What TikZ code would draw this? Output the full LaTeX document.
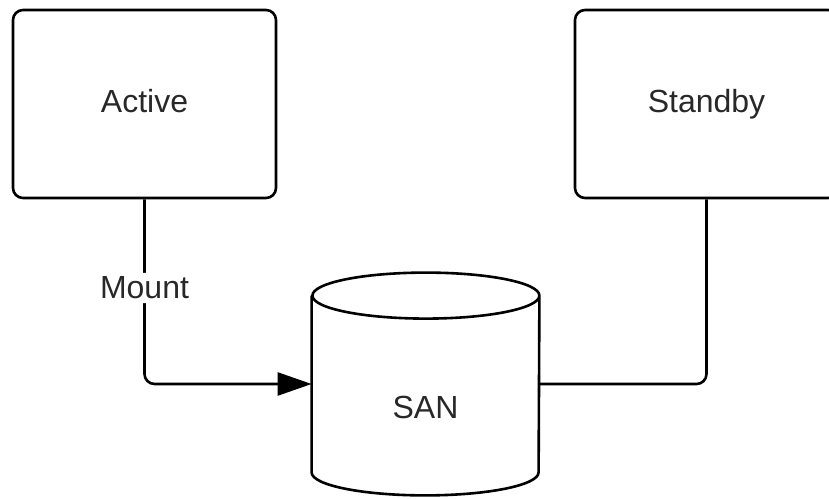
\documentclass[tikz,border=0pt]{standalone}
\usepackage{fontspec}
\setmainfont{Liberation Sans}
\usetikzlibrary{arrows.meta,positioning,calc}
\definecolor{HaTexto}{RGB}{40,40,40}
\tikzset{
  servidor/.style={draw=black, fill=white, rounded corners=5pt, line width=1.3pt,
                   minimum width=131.5pt, minimum height=94pt, align=center,
                   text height=11.5pt, text depth=3.4pt,
                   text=HaTexto, font=\fontsize{16}{19}\selectfont},
  disco/.style={minimum width=113.5pt, minimum height=111pt, inner sep=0pt,
                text=HaTexto, font=\fontsize{16}{19}\selectfont},
  seta/.style={-{Triangle[length=17pt, width=11.5pt]}, line width=1.3pt,
               rounded corners=5pt},
  ligacao/.style={line width=1.3pt, rounded corners=5pt},
  rotulo/.style={fill=white, text=HaTexto, inner sep=2pt,
                 font=\fontsize{16}{19}\selectfont},
}

\begin{document}
\begin{tikzpicture}[x=0.5pt, y=0.5pt]
  \clip (0,0) rectangle (829,498);

  % Servidores
  \node[servidor] (act) at (144.5,394) {Active};
  \node[servidor] (stb) at (706.5,394) {Standby};

  % Armazenamento compartilhado
  \node[disco] (san) at (425.5,114) {};
  \draw[line width=1.3pt, fill=white]
    ($(san.north west)+(0,-23)$) -- ($(san.south west)+(0,23)$)
    arc[start angle=180, end angle=360, x radius=56.75pt, y radius=11.5pt]
    -- ($(san.north east)+(0,-23)$)
    arc[start angle=0, end angle=180, x radius=56.75pt, y radius=11.5pt]
    arc[start angle=180, end angle=360, x radius=56.75pt, y radius=11.5pt];
  \node[text=HaTexto, font=\fontsize{16}{19}\selectfont] (sanrot)
    at ($(san.center)+(0,-23)$) {SAN};

  % Ligacoes
  \draw[seta] (act.south) |- (san.west)
    node[pos=0.24, rotulo] {Mount};
  \draw[ligacao] (stb.south) |- (san.east);
\end{tikzpicture}
\end{document}
